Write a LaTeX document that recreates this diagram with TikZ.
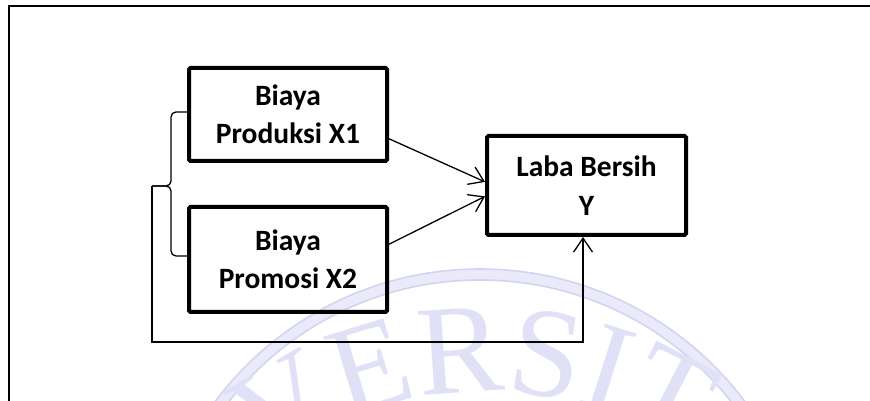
\documentclass[tikz,border=0pt]{standalone}
\usepackage{fontspec}
\setmainfont{Carlito}
\newfontfamily\wmserif{Liberation Serif}
\usetikzlibrary{arrows.meta,calc}
\definecolor{wmline}{RGB}{212,212,242}
\definecolor{wmband}{RGB}{234,234,250}
\definecolor{wmtext}{RGB}{224,224,247}
\tikzset{
  varbox/.style={draw, line width=4pt, rounded corners=1.5pt, align=center,
    font=\fontsize{29.5}{38.5}\selectfont\bfseries, inner sep=0pt},
  link/.style={line width=1.3pt,
    -{Straight Barb[length=14pt,width=19pt,line width=1.3pt]}},
  plain/.style={line width=1.3pt},
  frameline/.style={line width=2pt},
  ringline/.style={wmline, line width=1.6pt},
  wmletter/.style={text=wmtext, inner sep=0pt, anchor=base,
    font=\wmserif\fontsize{128}{128}\selectfont},
}
\begin{document}
\begin{tikzpicture}[x=1pt,y=1pt]
\useasboundingbox (0,0) rectangle (870,401);

% faint seal in the background
\fill[wmband, even odd rule] (480,-199) circle[radius=331] (480,-199) circle[radius=320];
\draw[ringline] (480,-199) circle[radius=331];
\draw[ringline] (480,-199) circle[radius=320];
\coordinate (wmc) at (487,-350);
\foreach \a/\l [count=\i] in {-66.88/U,-52.13/N,-41.35/I,-30.57/V,-16.95/E,-3.9/R,
    8.59/S,17.67/I,27.31/T,40.93/A,53.98/S}
  \node[wmletter, rotate=-\a] (wm\i) at ($(wmc)+(90-\a:359)$) {\l};

% page frame
\draw[frameline] (9,0) -- (9,394.7) -- (870,394.7);

% variables
\node[varbox, minimum width=198pt, minimum height=93pt]  (b1) at (288,286.5) {Biaya\\Produksi X1};
\node[varbox, minimum width=198pt, minimum height=105pt] (b2) at (288,141.5) {Biaya\\Promosi X2};
\node[varbox, minimum width=199pt, minimum height=99pt]  (lb) at (586.5,215.5) {Laba Bersih\\Y};

% partial effects
\draw[link] ($(b1.south east)!0.25!(b1.north east)$) -- ($(lb.north west)!0.465!(lb.south west)$);
\draw[link] ($(b2.north east)!0.36!(b2.south east)$) -- ($(lb.north west)!0.606!(lb.south west)$);

% brace grouping X1 and X2
\coordinate (bt) at ($(b1.west)+(0,2.5)$);
\coordinate (bb) at ($(b2.west)+(0,3.5)$);
\coordinate (tip) at (152,215);
\draw[plain, rounded corners=5pt] (bt) -| (171,215) -- (tip);
\draw[plain, rounded corners=5pt] (bb) -| (171,215) -- (tip);

% joint effect
\coordinate (corner) at (152,59);
\coordinate (fb) at ($(lb.south)+(-3.5,0)$);
\draw[link] (tip) -- (corner) -| (fb);
\end{tikzpicture}
\end{document}
